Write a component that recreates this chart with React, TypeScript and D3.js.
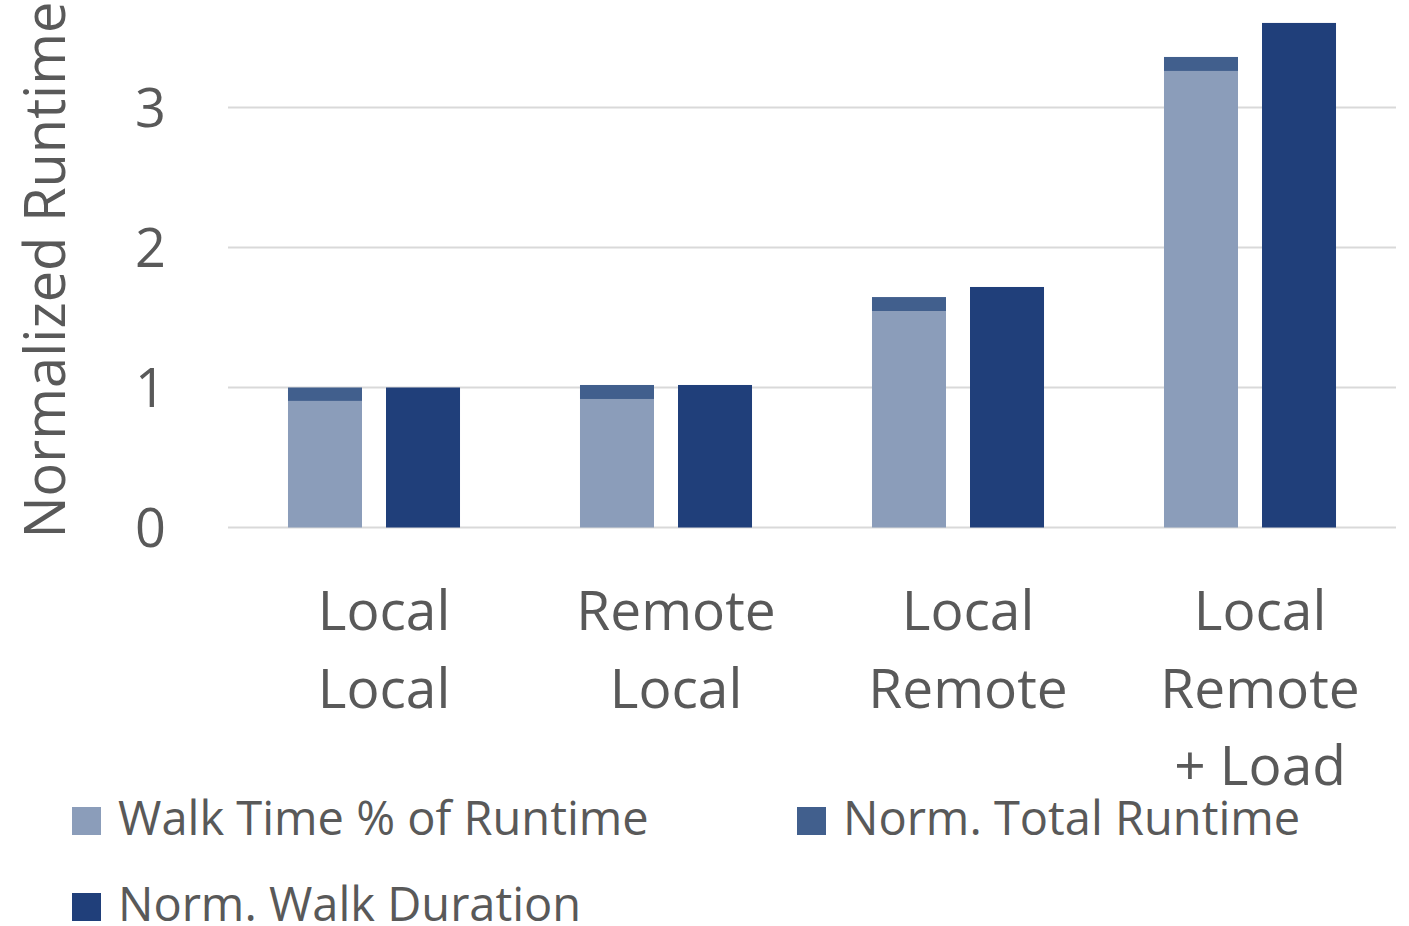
import React from "react";
import * as d3 from "d3";

// Category labels, one entry per line of the label
const categories: string[][] = [
  ["Local", "Local"],
  ["Remote", "Local"],
  ["Local", "Remote"],
  ["Local", "Remote", "+ Load"],
];
// Walk time portion of the total runtime (lower stacked segment)
const walkTime: number[] = [0.904, 0.918, 1.546, 3.261];
// Normalized total runtime (top of the stacked bar)
const totalRuntime: number[] = [1.0, 1.018, 1.646, 3.361];
// Normalized walk duration (separate bar)
const walkDuration: number[] = [1.0, 1.018, 1.718, 3.604];
const yTicks: number[] = [0, 1, 2, 3];

const seriesNames = ["Walk Time % of Runtime", "Norm. Total Runtime", "Norm. Walk Duration"];
const seriesColors = ["#8B9DBA", "#415F8D", "#203F7A"];

const W = 1409;
const H = 926;
const FONT = "'Open Sans', 'Noto Sans', sans-serif";
const TEXT = "#595959";

export default function App() {
  const x0 = d3
    .scaleBand<number>()
    .domain(categories.map((_, i) => i))
    .range([228, 1396])
    .padding(0);
  const x1 = d3
    .scaleBand<string>()
    .domain(["stack", "walk"])
    .range([0, x0.bandwidth()])
    .paddingInner(0.245)
    .paddingOuter(0.612);
  const y = d3.scaleLinear().domain([0, 3.6]).range([527.5, 23.5]);

  const legendItems = [
    { name: seriesNames[0], color: seriesColors[0], x: 72, y: 835 },
    { name: seriesNames[1], color: seriesColors[1], x: 797, y: 835 },
    { name: seriesNames[2], color: seriesColors[2], x: 72, y: 921 },
  ];

  return (
    <svg
      width={W}
      height={H}
      style={{ position: "absolute", left: 0, top: 0, background: "#fff" }}
      fontFamily={FONT}
    >
      {/* gridlines */}
      {yTicks.map((t) => (
        <line
          key={"g" + t}
          x1={228}
          x2={1396}
          y1={y(t)}
          y2={y(t)}
          stroke="#D9D9D9"
          strokeWidth={2}
        />
      ))}
      {/* y tick labels */}
      {yTicks.map((t) => (
        <text
          key={"t" + t}
          x={166}
          y={y(t) + 19}
          textAnchor="end"
          fontSize={54}
          fill={TEXT}
        >
          {t}
        </text>
      ))}
      {/* y axis title */}
      <text
        transform={`translate(65,${270}) rotate(-90)`}
        textAnchor="middle"
        fontSize={56}
        fill={TEXT}
      >
        Normalized Runtime
      </text>

      {/* bars */}
      {categories.map((_, i) => {
        const gx = x0(i)!;
        const sx = gx + x1("stack")!;
        const wx = gx + x1("walk")!;
        const bw = x1.bandwidth();
        return (
          <g key={"b" + i}>
            <rect
              x={sx}
              y={y(walkTime[i])}
              width={bw}
              height={y(0) - y(walkTime[i])}
              fill={seriesColors[0]}
            />
            <rect
              x={sx}
              y={y(totalRuntime[i])}
              width={bw}
              height={y(walkTime[i]) - y(totalRuntime[i])}
              fill={seriesColors[1]}
            />
            <rect
              x={wx}
              y={y(walkDuration[i])}
              width={bw}
              height={y(0) - y(walkDuration[i])}
              fill={seriesColors[2]}
            />
          </g>
        );
      })}

      {/* category labels */}
      {categories.map((lines, i) => (
        <text
          key={"c" + i}
          x={x0(i)! + x0.bandwidth() / 2 + 10}
          y={630}
          textAnchor="middle"
          fontSize={55}
          fill={TEXT}
        >
          {lines.map((l, j) => (
            <tspan key={j} x={x0(i)! + x0.bandwidth() / 2 + 10} dy={j === 0 ? 0 : 77.5}>
              {l}
            </tspan>
          ))}
        </text>
      ))}

      {/* legend */}
      {legendItems.map((it) => (
        <g key={it.name}>
          <rect x={it.x} y={it.y - 28} width={29} height={28} fill={it.color} />
          <text x={it.x + 46} y={it.y} fontSize={47} fill={TEXT}>
            {it.name}
          </text>
        </g>
      ))}
    </svg>
  );
}
